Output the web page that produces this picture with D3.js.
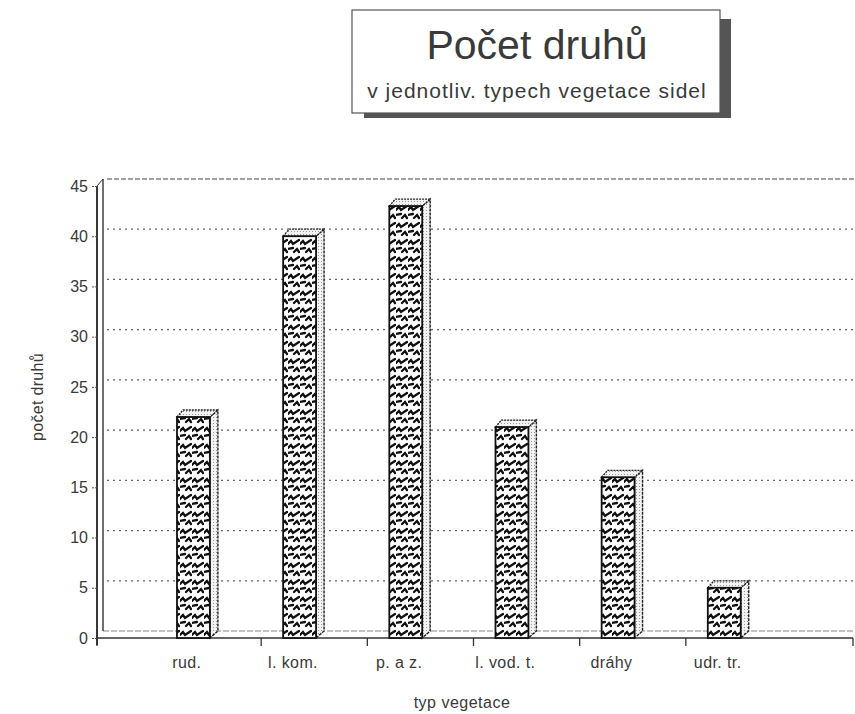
<!DOCTYPE html>
<html>
<head>
<meta charset="utf-8">
<script src="https://cdn.jsdelivr.net/npm/d3@7"></script>
<style>
  body { margin: 0; background: #fff; }
  text { font-family: "Liberation Sans", Arial, sans-serif; fill: #3a3a3a; }
</style>
</head>
<body>
<svg id="chart" width="855" height="714"></svg>
<script>
// data
const categories = ['rud.', 'l. kom.', 'p. a z.', 'l. vod. t.', 'dráhy', 'udr. tr.'];
const speciesCount = [22, 40, 43, 21, 16, 5];
const yTickValues = [0, 5, 10, 15, 20, 25, 30, 35, 40, 45];
const titleMain = 'Počet druhů';
const titleSub = 'v jednotliv. typech vegetace sidel';
const xAxisTitle = 'typ vegetace';
const yAxisTitle = 'počet druhů';

const svg = d3.select('#chart');

// 3D depth of the chart wall / bars
const depth = { dx: 6, dy: -7 };
const plot = { left: 97, right: 853 };

const x = d3.scaleBand()
  .domain(categories)
  .range([155, 792])
  .padding(0);

const y = d3.scaleLinear()
  .domain([0, 45])
  .range([638, 186]);

// patterns
const defs = svg.append('defs');
const weave = defs.append('pattern')
  .attr('id', 'weave')
  .attr('patternUnits', 'userSpaceOnUse')
  .attr('width', 12).attr('height', 17);
weave.append('rect').attr('width', 12).attr('height', 17).attr('fill', '#fff');
weave.append('path')
  .attr('d', 'M0,6 L3,3 L5,6 L11,2 M6,14 L9,11 L11,14 M-1,11 L5,10')
  .attr('stroke', '#111').attr('stroke-width', 2.3).attr('fill', 'none')
  .attr('stroke-linecap', 'round');

const stipple = defs.append('pattern')
  .attr('id', 'stipple')
  .attr('patternUnits', 'userSpaceOnUse')
  .attr('width', 3).attr('height', 3);
stipple.append('rect').attr('width', 3).attr('height', 3).attr('fill', '#f2f2f2');
stipple.append('rect').attr('width', 1).attr('height', 1).attr('fill', '#999');

// title box with shadow
svg.append('rect')
  .attr('x', 364).attr('y', 19).attr('width', 367).attr('height', 99)
  .attr('fill', '#555');
svg.append('rect')
  .attr('x', 352).attr('y', 10).attr('width', 368).attr('height', 103)
  .attr('fill', '#fff').attr('stroke', '#555').attr('stroke-width', 1.2);
svg.append('text')
  .attr('x', 537).attr('y', 59)
  .attr('text-anchor', 'middle')
  .style('font-size', '41px')
  .text(titleMain);
svg.append('text')
  .attr('x', 537).attr('y', 98)
  .attr('text-anchor', 'middle')
  .style('font-size', '21px')
  .style('letter-spacing', '1px')
  .text(titleSub);

// back gridlines
const grid = svg.append('g');
grid.selectAll('line')
  .data(yTickValues.filter(d => d > 0))
  .enter()
  .append('line')
  .attr('x1', plot.left + depth.dx + 4)
  .attr('x2', 855)
  .attr('y1', d => y(d) + depth.dy)
  .attr('y2', d => y(d) + depth.dy)
  .attr('stroke', d => d === 45 ? '#444' : '#666')
  .attr('stroke-width', 1.2)
  .attr('stroke-dasharray', d => d === 45 ? '5,2' : '2,4');

// back floor line
svg.append('line')
  .attr('x1', plot.left + depth.dx).attr('x2', 855)
  .attr('y1', y(0) + depth.dy).attr('y2', y(0) + depth.dy)
  .attr('stroke', '#888').attr('stroke-width', 1.2)
  .attr('stroke-dasharray', '6,2');

// left wall
svg.append('line')
  .attr('x1', plot.left).attr('x2', plot.left)
  .attr('y1', y(45)).attr('y2', y(0) + 7)
  .attr('stroke', '#222').attr('stroke-width', 1.8);
svg.append('line')
  .attr('x1', plot.left + depth.dx).attr('x2', plot.left + depth.dx)
  .attr('y1', y(45) + depth.dy).attr('y2', y(0) + depth.dy)
  .attr('stroke', '#333').attr('stroke-width', 1.4);
svg.append('line')
  .attr('x1', plot.left).attr('x2', plot.left + depth.dx)
  .attr('y1', y(45)).attr('y2', y(45) + depth.dy)
  .attr('stroke', '#333').attr('stroke-width', 1);

// front floor line
svg.append('line')
  .attr('x1', plot.left).attr('x2', plot.right)
  .attr('y1', y(0)).attr('y2', y(0))
  .attr('stroke', '#333').attr('stroke-width', 1.6);

// y axis
const yAxis = svg.append('g')
  .attr('transform', `translate(${plot.left},0)`)
  .call(d3.axisLeft(y).tickValues(yTickValues).tickSize(6).tickPadding(3));
yAxis.select('.domain').remove();
yAxis.selectAll('line').attr('stroke', '#555').attr('stroke-dasharray', '2,1');
yAxis.selectAll('text')
  .style('font-family', '"Liberation Sans", Arial, sans-serif')
  .style('font-size', '16px')
  .attr('fill', '#3a3a3a');

// x ticks between categories
const xTickPos = [plot.left]
  .concat(categories.slice(1).map(c => x(c)))
  .concat([plot.right]);
svg.append('g').selectAll('line')
  .data(xTickPos)
  .enter()
  .append('line')
  .attr('x1', d => d).attr('x2', d => d)
  .attr('y1', y(0)).attr('y2', y(0) + 8)
  .attr('stroke', '#333').attr('stroke-width', 1.3);

// x labels
svg.append('g').selectAll('text')
  .data(categories)
  .enter()
  .append('text')
  .attr('x', d => x(d) + x.bandwidth() * 0.3)
  .attr('y', 668)
  .attr('text-anchor', 'middle')
  .style('font-size', '16px')
  .style('letter-spacing', '0.4px')
  .text(d => d);

// bars (front, side, top)
const barOffset = x.bandwidth() * 0.207;
const barWidth = x.bandwidth() * 0.31;
const bars = svg.append('g').selectAll('g')
  .data(categories.map((c, i) => ({ c, v: speciesCount[i] })))
  .enter()
  .append('g');

bars.append('path')
  .attr('d', d => {
    const x1 = x(d.c) + barOffset + barWidth;
    return `M${x1},${y(d.v)} L${x1 + depth.dx + 2},${y(d.v) + depth.dy} L${x1 + depth.dx + 2},${y(0) + depth.dy} L${x1},${y(0)} Z`;
  })
  .attr('fill', 'url(#stipple)')
  .attr('stroke', '#222').attr('stroke-width', 1.4).attr('stroke-dasharray', '3,1');

bars.append('path')
  .attr('d', d => {
    const x0 = x(d.c) + barOffset, x1 = x0 + barWidth;
    return `M${x0},${y(d.v)} L${x0 + depth.dx},${y(d.v) + depth.dy} L${x1 + depth.dx + 2},${y(d.v) + depth.dy} L${x1},${y(d.v)} Z`;
  })
  .attr('fill', 'url(#stipple)')
  .attr('stroke', '#222').attr('stroke-width', 1.3).attr('stroke-dasharray', '2,1');

bars.append('rect')
  .attr('x', d => x(d.c) + barOffset)
  .attr('width', barWidth)
  .attr('y', d => y(d.v))
  .attr('height', d => y(0) - y(d.v))
  .attr('fill', 'url(#weave)')
  .attr('stroke', '#111').attr('stroke-width', 1.8);

// axis titles
svg.append('text')
  .attr('transform', 'translate(43,397) rotate(-90)')
  .attr('text-anchor', 'middle')
  .style('font-size', '16px')
  .style('letter-spacing', '0.3px')
  .text(yAxisTitle);
svg.append('text')
  .attr('x', 462).attr('y', 708)
  .attr('text-anchor', 'middle')
  .style('font-size', '16px')
  .style('letter-spacing', '0.5px')
  .text(xAxisTitle);
</script>
</body>
</html>
